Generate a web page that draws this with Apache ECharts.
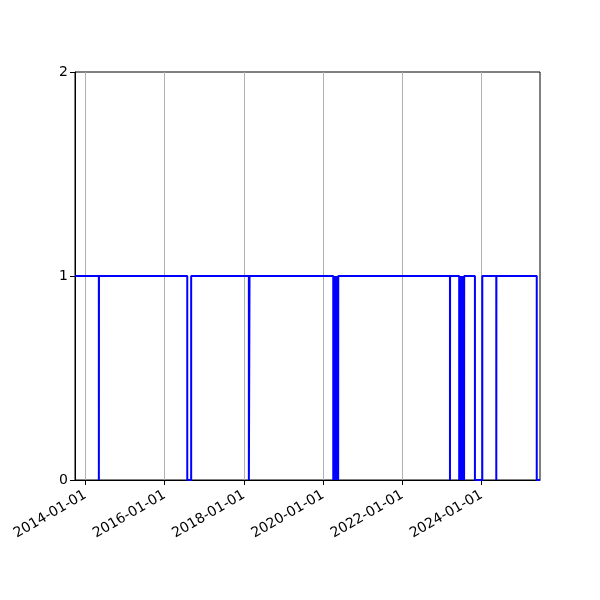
<!DOCTYPE html>
<html>
<head>
<meta charset="utf-8">
<script src="https://cdn.jsdelivr.net/npm/echarts@6/dist/echarts.min.js"></script>
<style>html,body{margin:0;padding:0;background:#fff}#c{width:600px;height:600px}</style>
</head>
<body>
<div id="c"></div>
<script>
// change points of the step series (value holds until the next date)
const changeDates = [
  '2013-09-27','2014-05-05','2014-05-06','2016-07-28','2016-09-02',
  '2018-02-16','2018-02-22',
  '2020-04-04','2020-04-05','2020-04-18','2020-04-19','2020-05-04','2020-05-05','2020-05-19','2020-05-20',
  '2023-03-16','2023-03-17',
  '2023-06-09','2023-06-10','2023-06-24','2023-06-25','2023-07-10','2023-07-11','2023-07-24','2023-07-25',
  '2023-11-01','2024-01-08','2024-05-16','2024-05-17','2025-05-24','2025-06-23'
];
const changeValues = [
  1,0,1,0,1,
  0,1,
  0,1,0,1,0,1,0,1,
  0,1,
  0,1,0,1,0,1,0,1,
  0,1,0,1,0,0
];
const xTickLabels = ['2014-01-01','2016-01-01','2018-01-01','2020-01-01','2022-01-01','2024-01-01'];
const yTicks = [0, 1, 2];

const DAY = 86400000;
const ts = s => Date.UTC(+s.slice(0, 4), +s.slice(5, 7) - 1, +s.slice(8, 10)) / DAY; // days since epoch
const seriesData = changeDates.map((d, i) => [ts(d), changeValues[i]]);
const xMin = ts(changeDates[0]);
const xMax = ts(changeDates[changeDates.length - 1]);
const xTickValues = xTickLabels.map(ts);

const chart = echarts.init(document.getElementById('c'), null, {renderer: 'canvas'});
const font = 'DejaVu Sans';
chart.setOption({
  animation: false,
  backgroundColor: '#ffffff',
  grid: {left: 75, right: 60, top: 72, bottom: 120, show: true, borderColor: '#000', borderWidth: 1, backgroundColor: 'transparent'},
  xAxis: {
    type: 'value',
    min: xMin,
    max: xMax,
    axisLine: {show: true, onZero: false, lineStyle: {color: '#000', width: 1}},
    axisTick: {show: true, inside: false, length: 5, lineStyle: {color: '#000', width: 1}, customValues: xTickValues},
    axisLabel: {
      show: true, rotate: 30, margin: 14, color: '#000', fontFamily: font, fontSize: 14,
      customValues: xTickValues, showMinLabel: true, showMaxLabel: true,
      formatter: v => {
        const i = xTickValues.indexOf(v);
        return i >= 0 ? xTickLabels[i] : '';
      }
    },
    splitLine: {show: true, lineStyle: {color: '#b0b0b0', width: 1}}
  },
  yAxis: {
    type: 'value',
    min: yTicks[0],
    max: yTicks[yTicks.length - 1],
    interval: 1,
    axisLine: {show: true, lineStyle: {color: '#000', width: 1}},
    axisTick: {show: true, inside: false, length: 5, lineStyle: {color: '#000', width: 1}},
    axisLabel: {show: true, margin: 7, color: '#000', fontFamily: font, fontSize: 14},
    splitLine: {show: false}
  },
  series: [{
    type: 'line',
    step: 'end',
    data: seriesData,
    showSymbol: false,
    symbol: 'none',
    lineStyle: {color: '#0000ff', width: 2},
    clip: true
  }]
});
</script>
</body>
</html>
